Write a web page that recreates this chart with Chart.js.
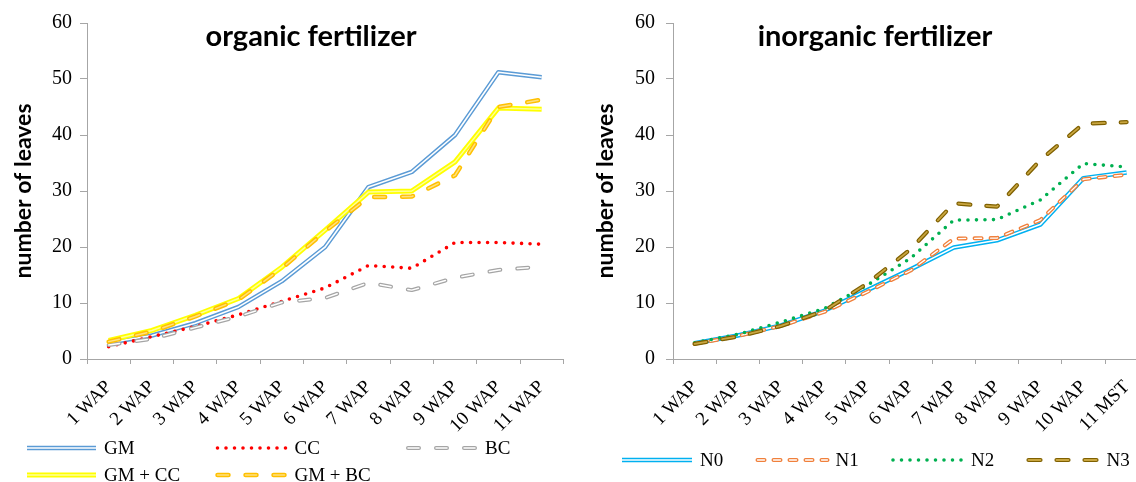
<!DOCTYPE html>
<html>
<head>
<meta charset="utf-8">
<script src="https://cdn.jsdelivr.net/npm/chart.js@4/dist/chart.umd.min.js"></script>
<style>
  html, body { margin: 0; padding: 0; background: #fff; overflow: hidden; }
  #wrap { position: relative; width: 1136px; height: 482px; overflow: hidden; }
  #organic { position: absolute; left: 0; top: 0; }
  #inorganic { position: absolute; left: 570px; top: 0; }
</style>
</head>
<body>
<div id="wrap">
  <canvas id="organic" width="570" height="482"></canvas>
  <canvas id="inorganic" width="585" height="482"></canvas>
</div>
<script>
// tick labels (weeks after planting)
const weeksOrganic = ['1 WAP', '2 WAP', '3 WAP', '4 WAP', '5 WAP', '6 WAP', '7 WAP', '8 WAP', '9 WAP', '10 WAP', '11 WAP'];
const weeksInorganic = ['1 WAP', '2 WAP', '3 WAP', '4 WAP', '5 WAP', '6 WAP', '7 WAP', '8 WAP', '9 WAP', '10 WAP', '11 MST'];

// organic fertilizer - number of leaves
const gm   = [2.9, 4.2, 6.4, 9.3, 13.9, 20.0, 30.7, 33.4, 40.0, 51.2, 50.3];
const cc   = [2.2, 4.0, 5.8, 7.9, 10.3, 12.7, 16.7, 16.2, 20.8, 20.8, 20.5];
const bc   = [2.5, 3.6, 5.6, 7.6, 10.1, 10.9, 13.6, 12.3, 14.5, 15.9, 16.5];
const gmCc = [3.3, 5.1, 7.8, 10.8, 16.4, 23.0, 29.8, 30.0, 35.2, 44.8, 44.6];
const gmBc = [3.1, 4.9, 7.6, 10.6, 16.2, 22.8, 28.9, 29.0, 32.8, 45.0, 46.3];

// inorganic fertilizer - number of leaves
const n0 = [2.8, 4.2, 6.0, 8.6, 12.3, 16.0, 19.9, 21.2, 24.0, 32.3, 33.3];
const n1 = [2.7, 4.1, 5.9, 8.4, 12.0, 15.8, 21.5, 21.6, 24.8, 32.1, 32.9];
const n2 = [2.9, 4.4, 6.6, 9.0, 13.2, 18.0, 24.8, 24.9, 28.4, 34.9, 34.3];
const n3 = [2.7, 4.0, 5.9, 8.6, 13.5, 19.6, 27.8, 27.2, 35.5, 42.0, 42.3];

const serif = '"Liberation Serif", "Times New Roman", serif';
const sans = 'Lato, "Open Sans", sans-serif';

// one series can be a "double" line: outer stroke + thinner inner stroke on top
function buildDatasets(series) {
    var sets = [];
    series.forEach(function(s, i) {
        var base = {
            label: s.label,
            data: s.data,
            pointRadius: 0,
            pointHoverRadius: 0,
            fill: false,
            tension: 0,
            borderJoinStyle: 'round',
            borderCapStyle: s.cap || 'butt',
            borderDash: s.dash || [],
            slot: i
        };
        sets.push(Object.assign({}, base, { borderColor: s.color, borderWidth: s.width, order: 100 - 2 * i }));
        if (s.inner) {
            sets.push(Object.assign({}, base, { borderColor: s.inner, borderWidth: s.innerWidth, order: 99 - 2 * i, inner: true }));
        }
    });
    return sets;
}

// title drawn inside the plot area, like the original
const plotTitle = {
    id: 'plotTitle',
    afterDraw(chart, args, opts) {
        var ctx = chart.ctx;
        ctx.save();
        ctx.font = 'bold 29px ' + sans;
        ctx.fillStyle = '#000';
        ctx.textAlign = 'center';
        ctx.textBaseline = 'middle';
        ctx.fillText(opts.text, opts.x, opts.y);
        ctx.restore();
    }
};

// legend in fixed columns (Excel style)
const gridLegend = {
    id: 'gridLegend',
    afterDraw(chart, args, opts) {
        var ctx = chart.ctx;
        var sets = chart.data.datasets.slice().sort(function(a, b) { return b.order - a.order; });
        ctx.save();
        sets.forEach(function(ds) {
            var col = ds.slot % opts.cols;
            var row = Math.floor(ds.slot / opts.cols);
            var x = opts.x + col * opts.colW;
            var y = opts.y + row * opts.rowH;
            ctx.strokeStyle = ds.borderColor;
            ctx.lineWidth = ds.borderWidth;
            ctx.lineCap = ds.borderCapStyle;
            ctx.setLineDash(ds.borderDash);
            ctx.beginPath();
            ctx.moveTo(x, y);
            ctx.lineTo(x + opts.len, y);
            ctx.stroke();
            if (!ds.inner) {
                ctx.setLineDash([]);
                ctx.font = '19px ' + serif;
                ctx.fillStyle = '#000';
                ctx.textAlign = 'left';
                ctx.textBaseline = 'middle';
                ctx.fillText(ds.label, x + opts.len + 8, y + 1);
            }
        });
        ctx.restore();
    }
};

function makeOptions(yWidth, titlePad, tickPad, padRight, titleOpts, legendOpts) {
    return {
        responsive: false,
        animation: false,
        layout: { padding: { top: 23, right: padRight, bottom: 43, left: 0 } },
        plugins: {
            legend: { display: false },
            tooltip: { enabled: false },
            plotTitle: titleOpts,
            gridLegend: legendOpts
        },
        scales: {
            x: {
                offset: true,
                grid: { display: true, offset: true, drawOnChartArea: false, drawTicks: true, tickLength: 5, color: '#a6a6a6' },
                border: { display: true, color: '#a6a6a6', width: 1 },
                ticks: {
                    autoSkip: false,
                    minRotation: 45,
                    maxRotation: 45,
                    padding: 12,
                    color: '#000',
                    font: { family: serif, size: 19 }
                },
                afterFit: function(s) { s.height = 80; }
            },
            y: {
                min: 0,
                max: 60,
                ticks: { stepSize: 10, padding: tickPad, color: '#000', font: { family: serif, size: 20 } },
                grid: { display: true, drawOnChartArea: false, drawTicks: true, tickLength: 7, color: '#a6a6a6' },
                border: { display: true, color: '#a6a6a6', width: 1 },
                title: {
                    display: true,
                    text: 'number of leaves',
                    color: '#000',
                    padding: { top: titlePad, bottom: 0 },
                    font: { family: sans, size: 23, weight: 'bold' }
                },
                afterFit: function(s) { s.width = yWidth; }
            }
        }
    };
}

// organic fertilizer
const organicSeries = [
    { label: 'GM', data: gm, color: '#5b9bd5', width: 4.5, inner: '#ffffff', innerWidth: 1.6 },
    { label: 'CC', data: cc, color: '#ff0000', width: 3.6, dash: [0, 8.5], cap: 'round' },
    { label: 'BC', data: bc, color: '#a5a5a5', width: 4, inner: '#ffffff', innerWidth: 1.5, dash: [11, 17], cap: 'round' },
    { label: 'GM + CC', data: gmCc, color: '#ffff00', width: 5, inner: '#ffff99', innerWidth: 1.5 },
    { label: 'GM + BC', data: gmBc, color: '#ffc000', width: 4.5, inner: '#ffe080', innerWidth: 1.5, dash: [11, 17], cap: 'round' }
];

var ctx1 = document.getElementById('organic').getContext('2d');
new Chart(ctx1, {
    type: 'line',
    data: { labels: weeksOrganic, datasets: buildDatasets(organicSeries) },
    options: makeOptions(87, 9.5, 8, 5,
        { text: 'organic fertilizer', x: 311, y: 37 },
        { x: 27, y: 448, cols: 3, colW: 190.5, rowH: 27, len: 69 }),
    plugins: [plotTitle, gridLegend]
});

// inorganic fertilizer
const inorganicSeries = [
    { label: 'N0', data: n0, color: '#00b0f0', width: 4.5, inner: '#ffffff', innerWidth: 1.6 },
    { label: 'N1', data: n1, color: '#f0803c', width: 4, inner: '#ffffff', innerWidth: 1.3, dash: [7, 9], cap: 'round' },
    { label: 'N2', data: n2, color: '#00b050', width: 3.6, dash: [0, 8.5], cap: 'round' },
    { label: 'N3', data: n3, color: '#7f6000', width: 4.2, inner: '#c9a640', innerWidth: 1.8, dash: [12, 16], cap: 'round' }
];

var ctx2 = document.getElementById('inorganic').getContext('2d');
new Chart(ctx2, {
    type: 'line',
    data: { labels: weeksInorganic, datasets: buildDatasets(inorganicSeries) },
    options: makeOptions(103, 21.5, 11, 6,
        { text: 'inorganic fertilizer', x: 305, y: 37 },
        { x: 52, y: 460, cols: 4, colW: 135.5, rowH: 27, len: 70 }),
    plugins: [plotTitle, gridLegend]
});
</script>
</body>
</html>
